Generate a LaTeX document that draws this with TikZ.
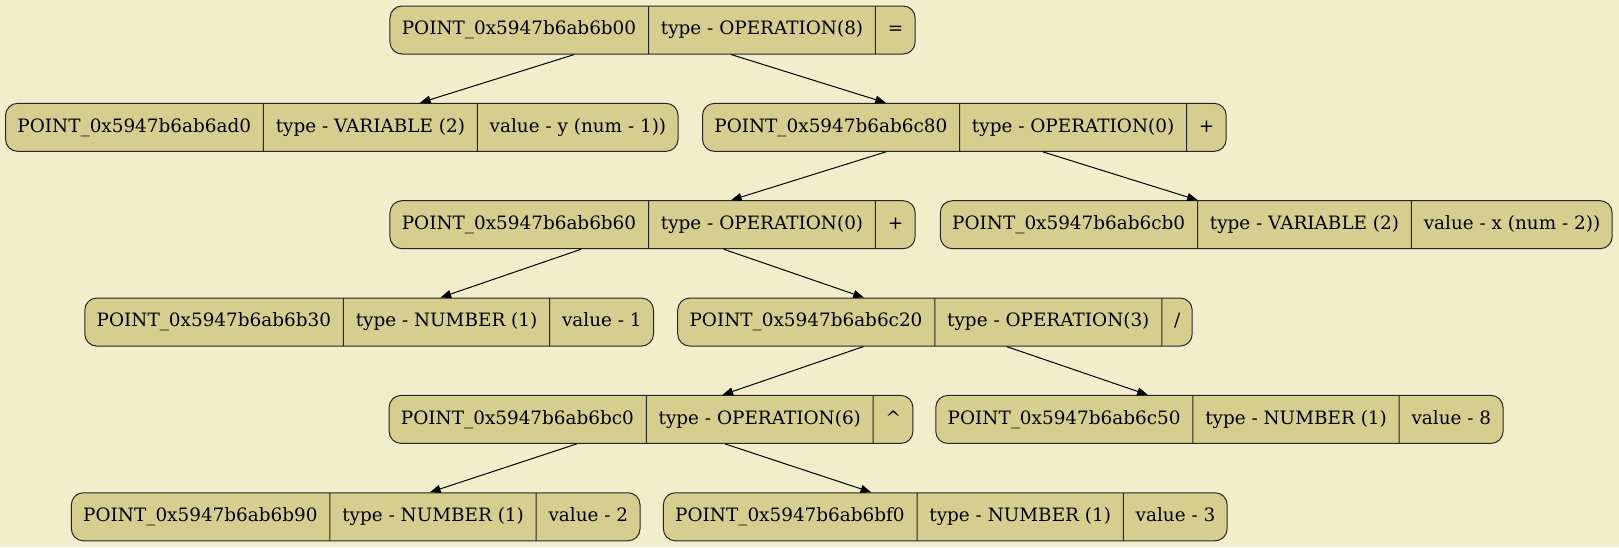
\documentclass[tikz,border=0pt]{standalone}
\usepackage{fontspec}
\setmainfont{DejaVu Serif}
\usetikzlibrary{shapes.multipart,arrows.meta}
\definecolor{bgc}{HTML}{F2EECB}
\definecolor{nodefill}{HTML}{D6CE8E}
\begin{document}
\begin{tikzpicture}[x=0.75pt,y=-0.75pt,
  rec/.style={rectangle split, rectangle split horizontal, rectangle split parts=3,
    rectangle split part align=base,
    draw=black!85, fill=nodefill, rounded corners=9pt, minimum height=36pt,
    inner xsep=8.9pt, inner ysep=0pt, line width=0.75pt,
    font=\fontsize{13.8}{16}\selectfont},
  edge/.style={-{Triangle[length=8pt,width=6pt]}, line width=0.75pt, draw=black}]
\fill[bgc] (0,0) rectangle (1619,547);
\useasboundingbox (0,0) rectangle (1619,547);

\node[rec] (A) at (652.55,30) {POINT\_0x5947b6ab6b00\nodepart{two}type - OPERATION(8)\nodepart{three}=};
\node[rec] (B) at (341.8,127.35) {POINT\_0x5947b6ab6ad0\nodepart{two}type - VARIABLE (2)\nodepart{three}value - y (num - 1))};
\node[rec] (C) at (964.35,127.35) {POINT\_0x5947b6ab6c80\nodepart{two}type - OPERATION(0)\nodepart{three}+};
\node[rec] (D) at (652.55,224.7) {POINT\_0x5947b6ab6b60\nodepart{two}type - OPERATION(0)\nodepart{three}+};
\node[rec] (E) at (1276.2,224.7) {POINT\_0x5947b6ab6cb0\nodepart{two}type - VARIABLE (2)\nodepart{three}value - x (num - 2))};
\node[rec] (F) at (369.15,322.05) {POINT\_0x5947b6ab6b30\nodepart{two}type - NUMBER (1)\nodepart{three}value - 1};
\node[rec] (G) at (934.95,322.05) {POINT\_0x5947b6ab6c20\nodepart{two}type - OPERATION(3)\nodepart{three}/};
\node[rec] (H) at (651,419.4) {POINT\_0x5947b6ab6bc0\nodepart{two}type - OPERATION(6)\nodepart{three}\textasciicircum};
\node[rec] (I) at (1219.4,419.4) {POINT\_0x5947b6ab6c50\nodepart{two}type - NUMBER (1)\nodepart{three}value - 8};
\node[rec] (J) at (355.7,516.75) {POINT\_0x5947b6ab6b90\nodepart{two}type - NUMBER (1)\nodepart{three}value - 2};
\node[rec] (K) at (945.25,516.75) {POINT\_0x5947b6ab6bf0\nodepart{two}type - NUMBER (1)\nodepart{three}value - 3};

\draw[edge] (A) -- (B);
\draw[edge] (A) -- (C);
\draw[edge] (C) -- (D);
\draw[edge] (C) -- (E);
\draw[edge] (D) -- (F);
\draw[edge] (D) -- (G);
\draw[edge] (G) -- (H);
\draw[edge] (G) -- (I);
\draw[edge] (H) -- (J);
\draw[edge] (H) -- (K);
\end{tikzpicture}
\end{document}
